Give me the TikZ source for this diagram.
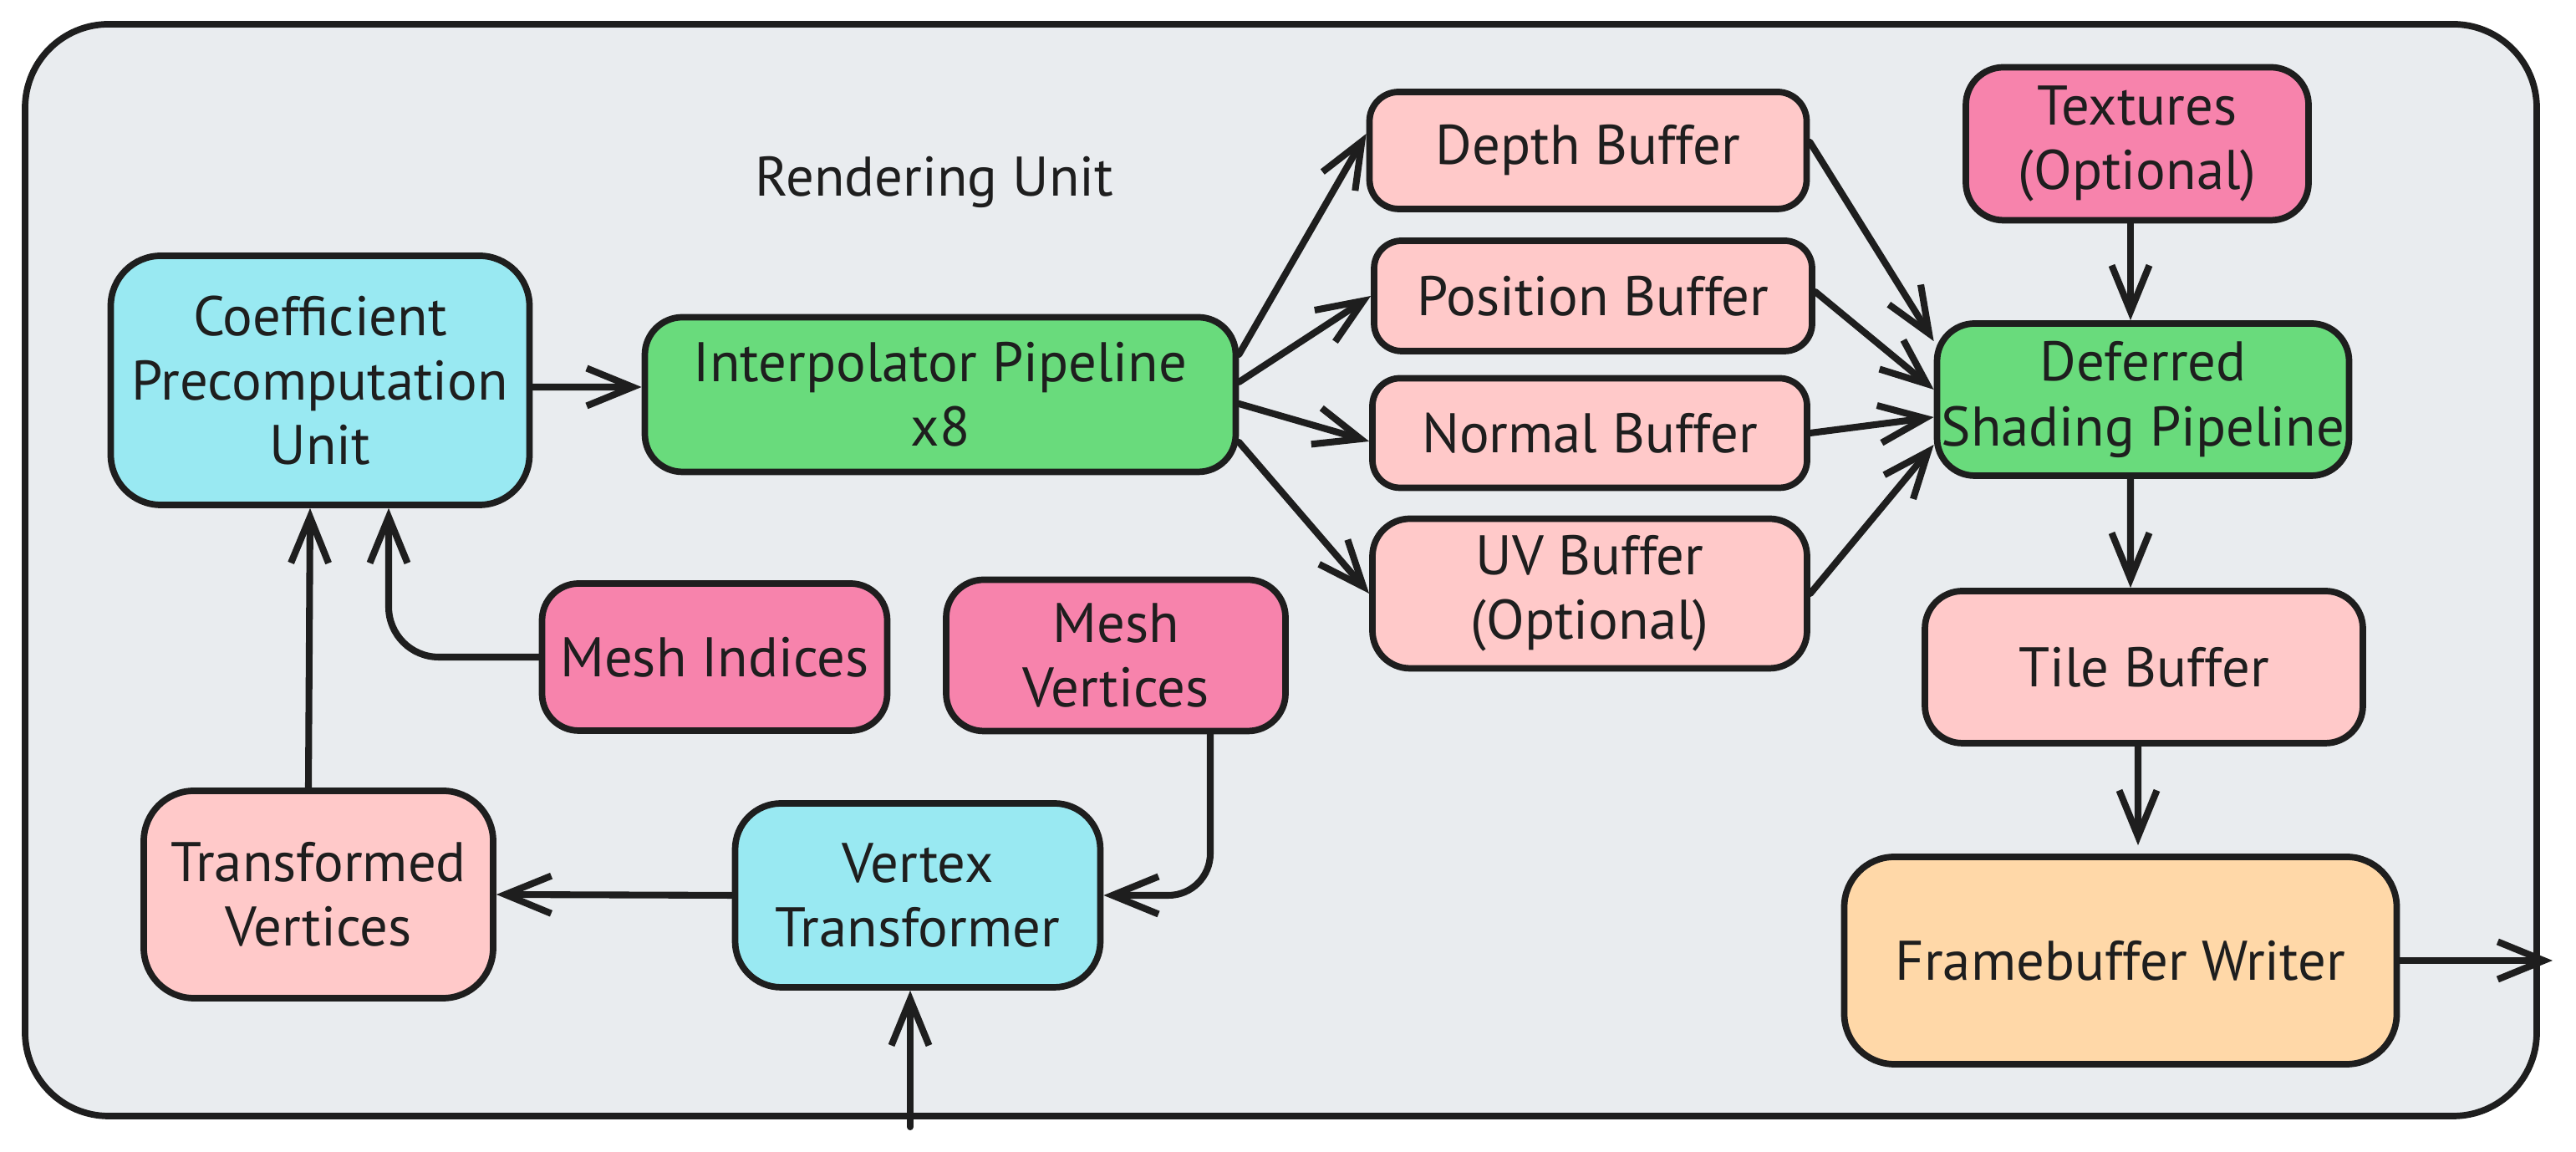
\documentclass[tikz,border=0pt]{standalone}
\usepackage{fontspec}
\setmainfont{PT Sans}
\usetikzlibrary{arrows.meta}
\definecolor{ink}{HTML}{1E1E1E}
\definecolor{panel}{HTML}{E9ECEF}
\definecolor{cyanfill}{HTML}{99E9F2}
\definecolor{greenfill}{HTML}{69DB7C}
\definecolor{rosefill}{HTML}{FFC9C9}
\definecolor{pinkfill}{HTML}{F783AC}
\definecolor{orangefill}{HTML}{FFD8A8}
\begin{document}
\begin{tikzpicture}[
        box/.style={draw=ink, line width=2.2pt, align=center, text=ink, inner sep=0pt,
            font=\fontsize{19}{22}\selectfont},
        arr/.style={draw=ink, line width=2.3pt, line cap=round,
            -{Straight Barb[length=0.55cm,width=0.45cm]}}
    ]
    \useasboundingbox (0,0) rectangle (30.82,13.78);
    \draw[draw=ink, fill=panel, line width=2.2pt, rounded corners=1cm] (0.30,0.43) rectangle (30.35,13.49);
    \node[text=ink, font=\fontsize{19}{22}\selectfont] (title) at (11.18,11.60) {Rendering Unit};

    \node[box, fill=cyanfill, minimum width=5.01cm, minimum height=2.98cm, rounded corners=0.6cm] (coef) at (3.83,9.23) {Coefficient\\Precomputation\\Unit};
    \node[box, fill=greenfill, minimum width=7.07cm, minimum height=1.85cm, rounded corners=0.45cm] (interp) at (11.25,9.06) {Interpolator Pipeline\\x8};
    \node[box, fill=rosefill, minimum width=5.23cm, minimum height=1.40cm, rounded corners=0.35cm] (depth) at (19.00,11.98) {Depth Buffer};
    \node[box, fill=rosefill, minimum width=5.24cm, minimum height=1.32cm, rounded corners=0.33cm] (pos) at (19.06,10.24) {Position Buffer};
    \node[box, fill=rosefill, minimum width=5.20cm, minimum height=1.31cm, rounded corners=0.33cm] (normal) at (19.02,8.60) {Normal Buffer};
    \node[box, fill=rosefill, minimum width=5.20cm, minimum height=1.79cm, rounded corners=0.45cm] (uv) at (19.02,6.68) {UV Buffer\\(Optional)};
    \node[box, fill=pinkfill, minimum width=4.10cm, minimum height=1.83cm, rounded corners=0.45cm] (tex) at (25.57,12.06) {Textures\\(Optional)};
    \node[box, fill=greenfill, minimum width=4.93cm, minimum height=1.82cm, rounded corners=0.45cm] (deferred) at (25.64,9.00) {Deferred\\Shading Pipeline};
    \node[box, fill=rosefill, minimum width=5.24cm, minimum height=1.82cm, rounded corners=0.45cm] (tile) at (25.65,5.80) {Tile Buffer};
    \node[box, fill=orangefill, minimum width=6.61cm, minimum height=2.48cm, rounded corners=0.6cm] (fbw) at (25.37,2.29) {Framebuffer Writer};
    \node[box, fill=pinkfill, minimum width=4.13cm, minimum height=1.76cm, rounded corners=0.44cm] (indices) at (8.55,5.92) {Mesh Indices};
    \node[box, fill=pinkfill, minimum width=4.06cm, minimum height=1.81cm, rounded corners=0.45cm] (meshv) at (13.35,5.94) {Mesh\\Vertices};
    \node[box, fill=rosefill, minimum width=4.18cm, minimum height=2.48cm, rounded corners=0.6cm] (tv) at (3.81,3.08) {Transformed\\Vertices};
    \node[box, fill=cyanfill, minimum width=4.37cm, minimum height=2.20cm, rounded corners=0.55cm] (vt) at (10.98,3.07) {Vertex\\Transformer};

    \coordinate (in) at (10.89,0.30);
    \coordinate (out) at (30.54,2.29);
    \coordinate (cin) at ([xshift=0.82cm]coef.south);
    \coordinate (mvout) at ([xshift=1.13cm]meshv.south);

    \draw[arr] ([yshift=-0.08cm]coef.east) -- ([yshift=0.09cm]interp.west);
    \draw[arr] ([yshift=0.48cm]interp.east) -- ([yshift=0.20cm]depth.west);
    \draw[arr] ([yshift=0.15cm]interp.east) -- (pos.west);
    \draw[arr] ([yshift=-0.11cm]interp.east) -- ([yshift=-0.10cm]normal.west);
    \draw[arr] ([yshift=-0.57cm]interp.east) -- (uv.west);
    \draw[arr] ([yshift=0.10cm]depth.east) -- ([yshift=-0.25cm]deferred.north west);
    \draw[arr] ([yshift=0.05cm]pos.east) -- ([yshift=0.12cm]deferred.west);
    \draw[arr] (normal.east) -- ([yshift=-0.21cm]deferred.west);
    \draw[arr] (uv.east) -- ([yshift=-0.54cm]deferred.west);
    \draw[arr] ([xshift=-0.08cm]tex.south) -- ([xshift=-0.15cm]deferred.north);
    \draw[arr] ([xshift=-0.15cm]deferred.south) -- ([xshift=-0.16cm]tile.north);
    \draw[arr, shorten >=0.1cm] ([xshift=-0.07cm]tile.south) -- ([xshift=0.21cm]fbw.north);
    \draw[arr] (fbw.east) -- (out);
    \draw[arr] (in) -- (in |- vt.south);
    \draw[arr] (vt.west) -- (tv.east);
    \draw[arr, rounded corners=0.5cm] (mvout) -- (mvout |- vt.east) -- (vt.east);
    \draw[arr, rounded corners=0.6cm] (indices.west) -- (cin |- indices.west) -- (cin);
    \draw[arr] ([xshift=-0.12cm]tv.north) -- ([xshift=-0.12cm]coef.south);
\end{tikzpicture}
\end{document}
